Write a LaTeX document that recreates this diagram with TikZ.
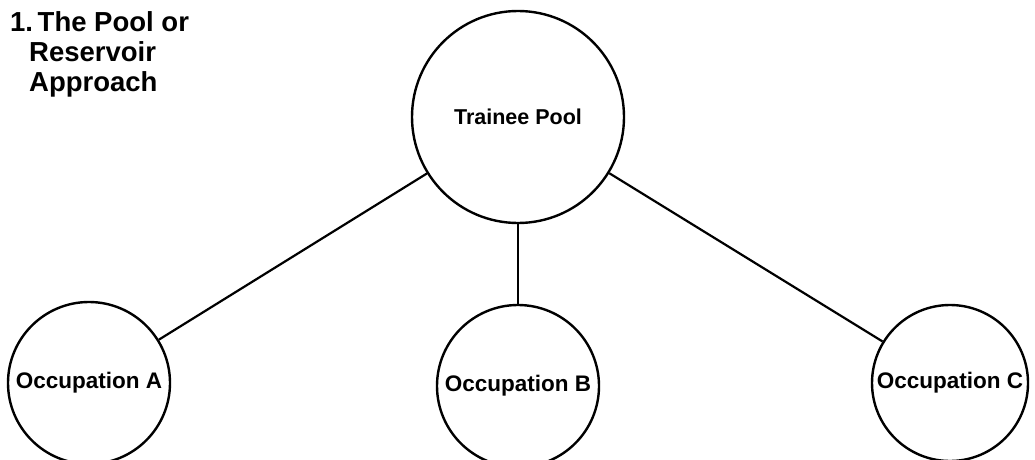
\documentclass[tikz,border=0pt]{standalone}
\usepackage{fontspec}
\setmainfont{Liberation Sans}
\usepackage{tikz}

\begin{document}
\begin{tikzpicture}
 [x=1pt,y=-1pt,
  pool node/.style={circle,draw,line width=2.4pt,inner sep=0pt,minimum size=212pt,font=\fontsize{21.5}{25}\selectfont\bfseries},
  job node/.style={circle,draw,line width=2.4pt,inner sep=0pt,minimum size=162pt,font=\fontsize{22.5}{25}\selectfont\bfseries}]
\useasboundingbox (0,0) rectangle (1035,460);

\node[pool node] (pool) at (518,117) {Trainee Pool};
\node[job node] (a) at (89,383) {Occupation A};
\node[job node] (b) at (518,386) {Occupation B};
\node[job node, minimum size=156pt] (c) at (950,383) {Occupation C};

\node (title) [anchor=north west, align=left, inner sep=0pt, font=\fontsize{27.5}{30}\selectfont\bfseries] at (10,11)
  {1.\,The Pool or\\\hspace*{19pt}Reservoir\\\hspace*{19pt}Approach};

\path
  (pool) edge [line width=2.2pt] (a)
  (pool) edge [line width=2.2pt] (b)
  (pool) edge [line width=2.2pt] (c);

\end{tikzpicture}
\end{document}
